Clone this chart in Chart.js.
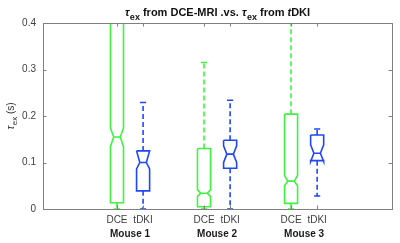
<!DOCTYPE html>
<html>
<head>
<meta charset="utf-8">
<script src="https://cdn.jsdelivr.net/npm/chart.js@4"></script>
<style>
  html, body { margin: 0; padding: 0; background: #fff; }
  #wrap { width: 400px; height: 243px; }
</style>
</head>
<body>
<div id="wrap"><canvas id="myChart" width="400" height="243"></canvas></div>
<script>
// box positions and labels
var positions = [1, 1.3, 2, 2.3, 3, 3.3];
var boxLabels = ['DCE', 'tDKI', 'DCE', 'tDKI', 'DCE', 'tDKI'];
var groupNames = ['Mouse 1', 'Mouse 2', 'Mouse 3'];
var boxColors = ['#3ff23f', '#1f46fb', '#3ff23f', '#1f46fb', '#3ff23f', '#1f46fb'];

// box statistics (seconds)
var lowerWhisker = [0, 0, 0, 0, 0, 0.028];
var q1 = [0.0135, 0.039, 0.005, 0.0875, 0.012, 0.104];
var median = [0.155, 0.100, 0.034, 0.118, 0.060, 0.120];
var q3 = [0.46, 0.125, 0.130, 0.148, 0.204, 0.159];
var upperWhisker = [0.80, 0.229, 0.315, 0.234, 0.55, 0.172];
var notchLow = [0.134, 0.086, 0.027, 0.100, 0.050, 0.102];
var notchHigh = [0.174, 0.125, 0.041, 0.136, 0.072, 0.138];

var yTicks = [0, 0.1, 0.2, 0.3, 0.4];

var font = 'Liberation Sans, Arial, Helvetica, sans-serif';
var halfW = 0.075;   // half box width in x units
var capW = 0.035;

var datasets = [];
for (var i = 0; i < positions.length; i++) {
    var x = positions[i];
    var solid = [
        {x: x - halfW, y: q3[i]},
        {x: x - halfW, y: notchHigh[i]},
        {x: x - halfW / 2, y: median[i]},
        {x: x - halfW, y: notchLow[i]},
        {x: x - halfW, y: q1[i]},
        {x: x + halfW, y: q1[i]},
        {x: x + halfW, y: notchLow[i]},
        {x: x + halfW / 2, y: median[i]},
        {x: x + halfW, y: notchHigh[i]},
        {x: x + halfW, y: q3[i]},
        {x: x - halfW, y: q3[i]},
        {x: x, y: null},
        {x: x - halfW / 2, y: median[i]},
        {x: x + halfW / 2, y: median[i]},
        {x: x, y: null},
        {x: x - capW, y: upperWhisker[i]},
        {x: x + capW, y: upperWhisker[i]},
        {x: x, y: null},
        {x: x - capW, y: lowerWhisker[i]},
        {x: x + capW, y: lowerWhisker[i]}
    ];
    var dashed = [
        {x: x, y: q3[i]},
        {x: x, y: upperWhisker[i]},
        {x: x, y: null},
        {x: x, y: q1[i]},
        {x: x, y: lowerWhisker[i]}
    ];
    datasets.push({
        data: solid, borderColor: boxColors[i], borderWidth: 1.6,
        pointRadius: 0, fill: false, tension: 0, spanGaps: false,
        clip: {left: 0, top: 0, right: 0, bottom: 2}
    });
    datasets.push({
        data: dashed, borderColor: boxColors[i], borderWidth: 1.6, borderDash: [5, 3],
        pointRadius: 0, fill: false, tension: 0, spanGaps: false,
        clip: {left: 0, top: 0, right: 0, bottom: 2}
    });
}

// draws a tau with a subscript "ex", returns the width used
function drawTau(ctx, x, y, size, bold) {
    ctx.font = 'italic ' + (bold ? 'bold ' : '') + size + 'px ' + font;
    ctx.fillText('\u03C4', x, y);
    var w = ctx.measureText('\u03C4').width;
    ctx.font = (bold ? 'bold ' : '') + Math.round(size * 0.78) + 'px ' + font;
    ctx.fillText('ex', x + w + 0.5, y + size * 0.33);
    return w + 0.5 + ctx.measureText('ex').width;
}

var extras = {
    id: 'extras',
    afterDraw: function(chart) {
        var ctx = chart.ctx;
        var a = chart.chartArea;
        var xs = chart.scales.x, ys = chart.scales.y;
        ctx.save();
        // frame
        ctx.strokeStyle = '#808080';
        ctx.lineWidth = 1;
        ctx.strokeRect(Math.round(a.left) + 0.5, Math.round(a.top) + 0.5,
            Math.round(a.right - a.left), Math.round(a.bottom - a.top));
        // inward ticks
        ctx.beginPath();
        yTicks.forEach(function(v) {
            var py = Math.round(ys.getPixelForValue(v)) + 0.5;
            ctx.moveTo(a.left, py); ctx.lineTo(a.left + 3.5, py);
            ctx.moveTo(a.right, py); ctx.lineTo(a.right - 3.5, py);
        });
        positions.forEach(function(v) {
            var px = Math.round(xs.getPixelForValue(v)) + 0.5;
            ctx.moveTo(px, a.bottom); ctx.lineTo(px, a.bottom - 3.5);
            ctx.moveTo(px, a.top); ctx.lineTo(px, a.top + 3.5);
        });
        ctx.stroke();

        // group labels
        ctx.fillStyle = '#1a1a1a';
        ctx.font = 'bold 10px ' + font;
        ctx.textAlign = 'center';
        ctx.textBaseline = 'alphabetic';
        for (var g = 0; g < groupNames.length; g++) {
            var mid = (positions[2 * g] + positions[2 * g + 1]) / 2;
            ctx.fillText(groupNames[g], xs.getPixelForValue(mid), 237);
        }

        // title
        ctx.textAlign = 'left';
        ctx.fillStyle = '#111';
        var size = 11;
        function measureTitle() {
            var w = 0;
            ctx.font = 'italic bold ' + size + 'px ' + font;
            var tw = ctx.measureText('\u03C4').width + 0.5;
            ctx.font = 'bold ' + Math.round(size * 0.78) + 'px ' + font;
            tw += ctx.measureText('ex').width;
            ctx.font = 'bold ' + size + 'px ' + font;
            w = 2 * tw + ctx.measureText(' from DCE-MRI .vs. ').width + ctx.measureText(' from ').width;
            ctx.font = 'italic bold ' + size + 'px ' + font;
            w += ctx.measureText('t').width;
            ctx.font = 'bold ' + size + 'px ' + font;
            w += ctx.measureText('DKI').width;
            return w;
        }
        var tx = (a.left + a.right) / 2 - measureTitle() / 2;
        var ty = 16;
        tx += drawTau(ctx, tx, ty, size, true);
        ctx.font = 'bold ' + size + 'px ' + font;
        ctx.fillText(' from DCE-MRI .vs. ', tx, ty);
        tx += ctx.measureText(' from DCE-MRI .vs. ').width;
        tx += drawTau(ctx, tx, ty, size, true);
        ctx.font = 'bold ' + size + 'px ' + font;
        ctx.fillText(' from ', tx, ty);
        tx += ctx.measureText(' from ').width;
        ctx.font = 'italic bold ' + size + 'px ' + font;
        ctx.fillText('t', tx, ty);
        tx += ctx.measureText('t').width;
        ctx.font = 'bold ' + size + 'px ' + font;
        ctx.fillText('DKI', tx, ty);

        // y axis label
        ctx.save();
        ctx.translate(14, (a.top + a.bottom) / 2);
        ctx.rotate(-Math.PI / 2);
        ctx.fillStyle = '#333';
        ctx.font = 'italic 10px ' + font;
        var lw = ctx.measureText('\u03C4').width + 0.5;
        ctx.font = '8px ' + font;
        lw += ctx.measureText('ex').width;
        ctx.font = '10px ' + font;
        lw += ctx.measureText(' (s)').width;
        var lx = -lw / 2;
        lx += drawTau(ctx, lx, 0, 10, false);
        ctx.font = '10px ' + font;
        ctx.fillText(' (s)', lx, 0);
        ctx.restore();

        ctx.restore();
    }
};

var ctx = document.getElementById('myChart');
var myChart = new Chart(ctx, {
    type: 'line',
    data: { datasets: datasets },
    options: {
        responsive: false,
        animation: false,
        events: [],
        layout: { padding: { left: 0, top: 23, right: 8, bottom: 0 } },
        plugins: {
            legend: { display: false },
            title: { display: false },
            tooltip: { enabled: false }
        },
        scales: {
            x: {
                type: 'linear',
                min: 0.15,
                max: 4.16,
                grid: { display: false, drawTicks: false },
                border: { display: false },
                afterBuildTicks: function(scale) {
                    scale.ticks = positions.map(function(v) { return {value: v}; });
                },
                afterFit: function(scale) { scale.height = 34; },
                ticks: {
                    autoSkip: false,
                    maxRotation: 0,
                    padding: 5,
                    color: '#404040',
                    font: { family: font, size: 10 },
                    callback: function(value, index) { return boxLabels[index]; }
                }
            },
            y: {
                min: 0,
                max: 0.4,
                grid: { display: false, drawTicks: false },
                border: { display: false },
                afterBuildTicks: function(scale) {
                    scale.ticks = yTicks.map(function(v) { return {value: v}; });
                },
                afterFit: function(scale) { scale.width = 43; },
                ticks: {
                    padding: 7,
                    color: '#404040',
                    font: { family: font, size: 10 },
                    callback: function(value) { return String(value); }
                }
            }
        }
    },
    plugins: [extras]
});
</script>
</body>
</html>
